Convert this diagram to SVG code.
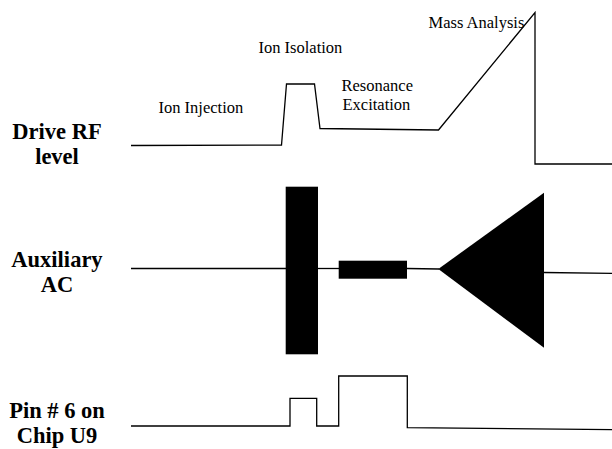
<svg xmlns="http://www.w3.org/2000/svg" width="612" height="449" viewBox="0 0 612 449">
<style>
.lbl{font-family:"Liberation Serif","Times New Roman",serif;font-weight:bold;font-size:22.5px;fill:#000;text-anchor:middle}
.ph{font-family:"Liberation Serif","Times New Roman",serif;font-size:16.5px;fill:#000}
.w{fill:none;stroke:#000;stroke-width:1.3;stroke-linejoin:miter}
.blk{fill:#000;stroke:none}
</style>
<rect width="612" height="449" fill="#fff"/>
<g id="label-drive">
<text class="lbl" x="57" y="139">Drive RF</text>
<text class="lbl" x="57" y="164">level</text>
</g>
<g id="label-aux">
<text class="lbl" x="57" y="267">Auxiliary</text>
<text class="lbl" x="57" y="292">AC</text>
</g>
<g id="label-pin">
<text class="lbl" x="57" y="418">Pin # 6 on</text>
<text class="lbl" x="57" y="443">Chip U9</text>
</g>
<g id="phase-labels">
<text class="ph" x="158.5" y="112.5">Ion Injection</text>
<text class="ph" x="258.5" y="53.3">Ion Isolation</text>
<text class="ph" x="341.5" y="90.5">Resonance</text>
<text class="ph" x="342.5" y="110">Excitation</text>
<text class="ph" x="428.5" y="28.3">Mass Analysis</text>
</g>
<g id="drive-rf-wave">
<polyline class="w" points="131,145.5 281.5,145 286.5,84 314.5,84 320,128.5 438.5,130 535,12.5 535,164 612,164"/>
</g>
<g id="aux-ac-wave">
<line class="w" x1="131" y1="268.5" x2="286" y2="268.5"/>
<line class="w" x1="318" y1="268.5" x2="339" y2="268.5"/>
<line class="w" x1="407" y1="268.5" x2="439" y2="269"/>
<line class="w" x1="544" y1="272.5" x2="612" y2="273.3"/>
<rect class="blk" x="285.7" y="186.7" width="32.3" height="167.6"/>
<rect class="blk" x="338.7" y="260.7" width="68.3" height="18"/>
<polygon class="blk" points="438.3,269 544,192.7 544,347.7"/>
</g>
<g id="pin-wave">
<polyline class="w" points="131,426 290,426 290,398.3 316.7,398.3 316.7,426 338.7,426 338.7,376 407.3,376 407.3,427.7 612,429.7"/>
</g>
</svg>
